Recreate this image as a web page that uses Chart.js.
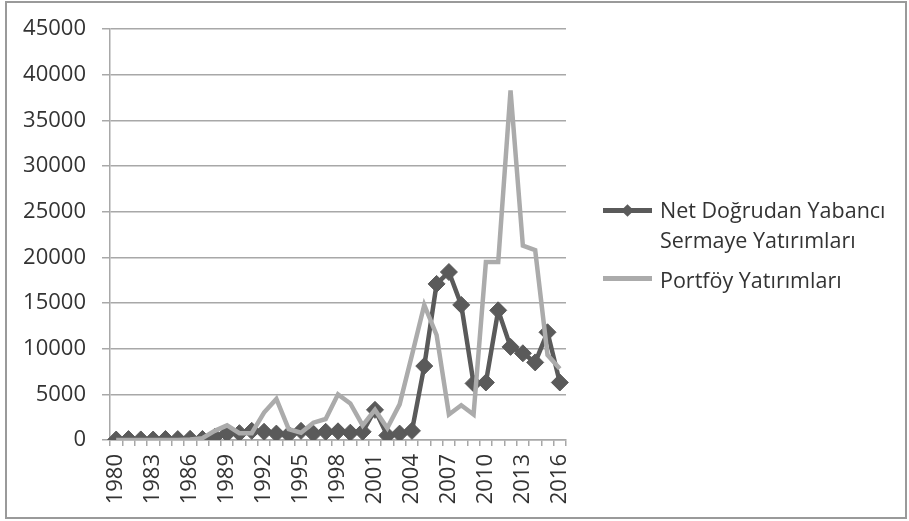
<!DOCTYPE html>
<html lang="tr">
<head>
<meta charset="UTF-8">
<title>Net Doğrudan Yabancı Sermaye ve Portföy Yatırımları</title>
<script src="https://cdn.jsdelivr.net/npm/chart.js/dist/chart.umd.min.js"></script>
<style>
body{ margin:0; background:#fff; }
#wrap{ position:relative; width:909px; height:521px; overflow:hidden; }
#frame{ position:absolute; left:5px; top:1px; width:898px; height:514px; border:2px solid #9a9a9a; }
#c{ position:absolute; left:0; top:0; }
.lgline{ position:absolute; height:5px; width:49px; left:603px; }
.lgdiam{ position:absolute; width:9px; height:9px; background:#5a5a5a; transform:rotate(45deg); }
.lgtext{ position:absolute; left:660px; font-family:"Open Sans", sans-serif; font-size:21.5px; line-height:30px; color:#333; white-space:nowrap; }
</style>
</head>
<body>
<div id="wrap">
    <div id="frame"></div>
    <canvas id="c" width="909" height="521"></canvas>

    <!-- legend -->
    <div class="lgline" style="top:208px;background:#5a5a5a"></div>
    <div class="lgdiam" style="left:623px;top:206px"></div>
    <div class="lgtext" style="top:195px">Net Doğrudan Yabancı<br>Sermaye Yatırımları</div>
    <div class="lgline" style="top:276px;background:#ababab"></div>
    <div class="lgtext" style="top:265px">Portföy Yatırımları</div>
</div>

<script>
const years = ['1980','1981','1982','1983','1984','1985','1986','1987','1988','1989',
    '1990','1991','1992','1993','1994','1995','1996','1997','1998','1999',
    '2000','2001','2002','2003','2004','2005','2006','2007','2008','2009',
    '2010','2011','2012','2013','2014','2015','2016'];

// Net Doğrudan Yabancı Sermaye Yatırımları
const netFdi = [50, 100, 60, 50, 110, 100, 130, 110, 350, 700,
    750, 1000, 900, 700, 600, 1000, 700, 900, 950, 800,
    900, 3300, 500, 700, 1000, 8100, 17100, 18400, 14800, 6200,
    6300, 14200, 10200, 9500, 8500, 11800, 6300];

// Portföy Yatırımları
const portfolio = [0, 0, 0, 0, 0, 0, 50, 200, 1000, 1600,
    750, 750, 3000, 4500, 1200, 800, 1900, 2300, 5000, 4000,
    1600, 3300, 1300, 3900, 9300, 14800, 11500, 2800, 3800, 2800,
    19500, 19500, 38300, 21300, 20800, 9300, 7800];

const yTicks = [0, 5000, 10000, 15000, 20000, 25000, 30000, 35000, 40000, 45000];

const labelFont = { family: 'Open Sans', size: 22 };
const gridGray = '#a8a8a8';

new Chart(document.getElementById('c'), {
    type: 'line',
    data: {
        labels: years,
        datasets: [{
            label: 'Portföy Yatırımları',
            data: portfolio,
            borderColor: '#ababab',
            borderWidth: 4.5,
            pointRadius: 0,
            tension: 0,
            order: 0
        }, {
            label: 'Net Doğrudan Yabancı Sermaye Yatırımları',
            data: netFdi,
            borderColor: '#5a5a5a',
            borderWidth: 4.5,
            pointStyle: 'rectRot',
            pointRadius: 8.5,
            pointBackgroundColor: '#5a5a5a',
            pointBorderColor: '#5a5a5a',
            pointBorderWidth: 1,
            tension: 0,
            order: 1
        }]
    },
    options: {
        responsive: false,
        animation: false,
        layout: { padding: { left: 0, top: 24, right: 343, bottom: 0 } },
        plugins: {
            legend: { display: false },
            tooltip: { enabled: false }
        },
        scales: {
            x: {
                type: 'category',
                offset: true,
                afterFit: s => { s.height = 81; },
                grid: {
                    offset: true,
                    drawOnChartArea: false,
                    drawTicks: true,
                    tickLength: 6,
                    color: gridGray,
                    lineWidth: 1.5
                },
                border: { color: gridGray, width: 1.5 },
                ticks: {
                    autoSkip: false,
                    maxRotation: 90,
                    minRotation: 90,
                    padding: 8,
                    color: '#333',
                    font: labelFont,
                    callback: function (v, i) { return i % 3 === 0 ? years[i] : ''; }
                }
            },
            y: {
                min: 0,
                max: 45000,
                afterFit: s => { s.width = 110; },
                afterBuildTicks: s => { s.ticks = yTicks.map(v => ({ value: v })); },
                grid: {
                    color: gridGray,
                    lineWidth: 1.5,
                    tickLength: 8
                },
                border: { color: gridGray, width: 1.5 },
                ticks: {
                    padding: 16,
                    color: '#333',
                    font: labelFont,
                    callback: v => String(v)
                }
            }
        }
    }
});
</script>
</body>
</html>
